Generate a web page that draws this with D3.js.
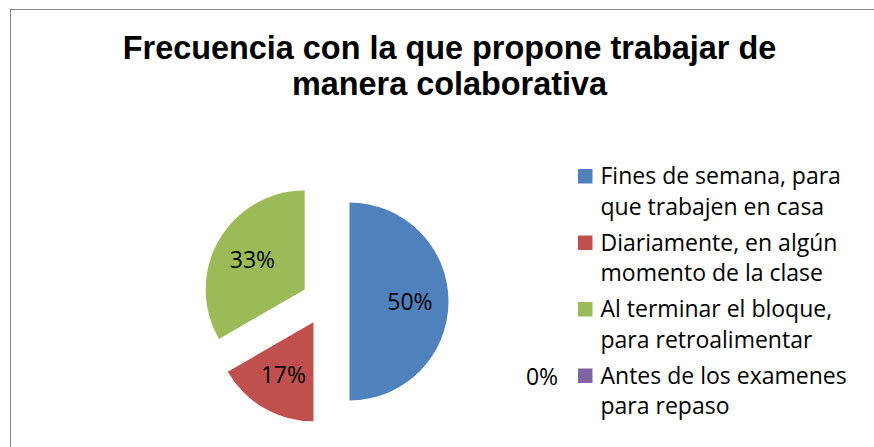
<!DOCTYPE html>
<html lang="es">
<head>
<meta charset="UTF-8">
<script src="https://d3js.org/d3.v7.min.js"></script>
<title>Frecuencia</title>
<style>
  body { margin: 0; background: #fff; }
</style>
</head>
<body>
<svg width="874" height="447"></svg>
<script>
  // datos
  let categories = [
    ['Fines de semana, para', 'que trabajen en casa'],
    ['Diariamente, en algún', 'momento de la clase'],
    ['Al terminar el bloque,', 'para retroalimentar'],
    ['Antes de los examenes', 'para repaso']
  ];
  let values = [50, 16.67, 33.33, 0];
  let labels = ['50%', '17%', '33%', '0%'];
  let colors = ['#4F81BD', '#C0504D', '#9BBB59', '#8064A2'];
  let titleLines = ['Frecuencia con la que propone trabajar de', 'manera colaborativa'];

  let svg = d3.select('svg');
  let bodyFont = '"Open Sans", Lato, sans-serif';
  let bodySize = 23;

  // marco
  svg.append('rect')
    .attr('x', 10.5).attr('y', 9.5)
    .attr('width', 900).attr('height', 460)
    .attr('fill', 'none')
    .attr('stroke', '#868686')
    .attr('stroke-width', 1);

  // titulo
  svg.append('g').selectAll('text')
    .data(titleLines)
    .enter()
    .append('text')
    .attr('x', 449.5)
    .attr('y', (d, i) => 59 + i * 36)
    .attr('text-anchor', 'middle')
    .attr('font-family', '"Liberation Sans", Arial, sans-serif')
    .attr('font-weight', 'bold')
    .attr('font-size', 32.4)
    .text(d => d);

  // pastel
  let cx = 325.5, cy = 301.5, radius = 99, explode = 24;
  let pie = d3.pie().sort(null).value(d => d);
  let arc = d3.arc().innerRadius(0).outerRadius(radius);
  let arcs = pie(values);

  function offset(d) {
    let a = (d.startAngle + d.endAngle) / 2;
    return [Math.sin(a) * explode, -Math.cos(a) * explode];
  }

  let g = svg.append('g').attr('transform', `translate(${cx},${cy})`);

  g.selectAll('.slice')
    .data(arcs)
    .enter()
    .append('path')
    .attr('class', 'slice')
    .attr('transform', d => `translate(${offset(d)})`)
    .attr('d', arc)
    .attr('fill', (d, i) => colors[i]);

  let labelArc = d3.arc().innerRadius(radius * 0.61).outerRadius(radius * 0.61);

  g.selectAll('.lbl')
    .data(arcs.filter(d => d.value > 0))
    .enter()
    .append('text')
    .attr('class', 'lbl')
    .attr('transform', d => {
      let o = offset(d), c = labelArc.centroid(d);
      return `translate(${o[0] + c[0]},${o[1] + c[1]})`;
    })
    .attr('text-anchor', 'middle')
    .attr('dy', '0.36em')
    .attr('font-family', bodyFont)
    .attr('font-size', bodySize)
    .attr('fill', '#000')
    .text(d => labels[d.index]);

  // leyenda
  let legendY = d3.scalePoint().domain(d3.range(categories.length)).range([184, 383.5]);
  let legend = svg.append('g').attr('transform', 'translate(578,0)');

  let item = legend.selectAll('.item')
    .data(categories)
    .enter()
    .append('g')
    .attr('class', 'item')
    .attr('transform', (d, i) => `translate(0,${legendY(i)})`);

  item.append('rect')
    .attr('x', 0).attr('y', -15)
    .attr('width', 14.5).attr('height', 14.5)
    .attr('fill', (d, i) => colors[i]);

  item.append('text')
    .attr('font-family', bodyFont)
    .attr('font-size', bodySize)
    .attr('fill', '#000')
    .selectAll('tspan')
    .data(d => d)
    .enter()
    .append('tspan')
    .attr('x', 22.5)
    .attr('y', (d, i) => i * 30.5)
    .text(d => d);

  // etiqueta del valor cero, junto a su leyenda
  let zero = arcs.filter(d => d.value === 0);
  legend.selectAll('.zero')
    .data(zero)
    .enter()
    .append('text')
    .attr('class', 'zero')
    .attr('x', -36)
    .attr('y', d => legendY(d.index) + 1.5)
    .attr('text-anchor', 'middle')
    .attr('font-family', bodyFont)
    .attr('font-size', bodySize)
    .text(d => labels[d.index]);
</script>
</body>
</html>
